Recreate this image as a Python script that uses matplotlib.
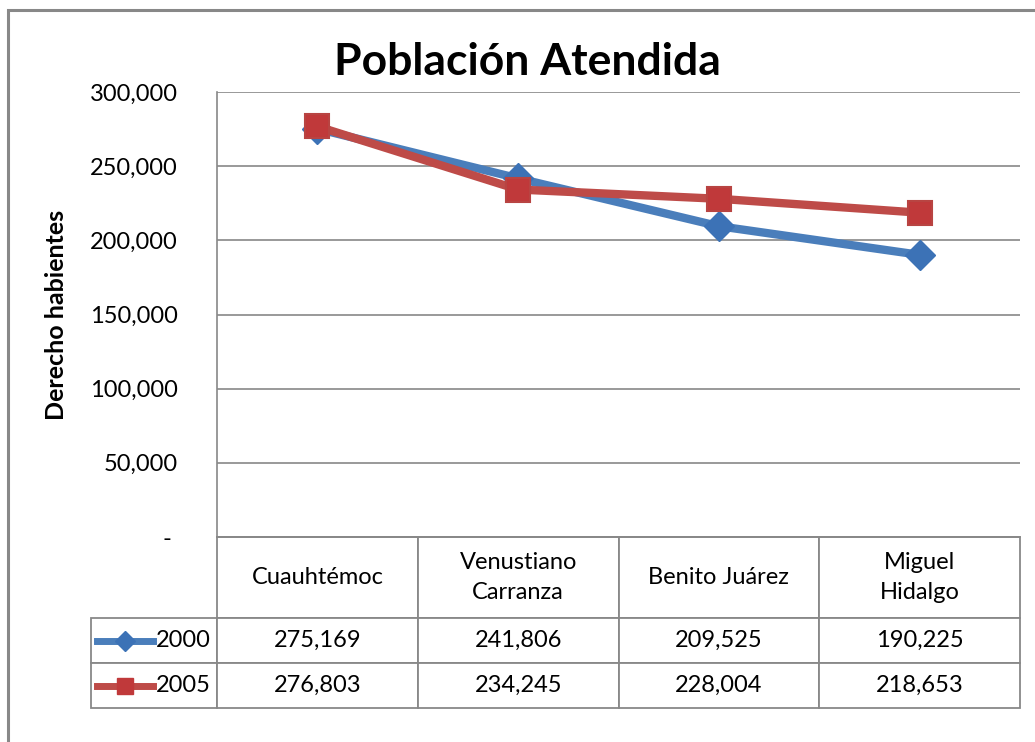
import matplotlib
matplotlib.use("Agg")
import matplotlib.pyplot as plt
from matplotlib.patches import Rectangle

# === DATA ===
categories = ["Cuauhtémoc", "Venustiano\nCarranza", "Benito Juárez", "Miguel\nHidalgo"]
series_2000 = [275169, 241806, 209525, 190225]
series_2005 = [276803, 234245, 228004, 218653]
series_names = ["2000", "2005"]
y_ticks = [0, 50000, 100000, 150000, 200000, 250000, 300000]
y_tick_labels = ["- ", "50,000", "100,000", "150,000", "200,000", "250,000", "300,000"]

# === STYLE ===
FONT = "Lato"
BLUE = "#4A7EBB"
RED = "#BE4B48"
GRID = "#888888"
W, H = 1035, 742

plt.rcParams["font.family"] = [FONT, "DejaVu Sans"]

fig = plt.figure(figsize=(W / 100, H / 100), dpi=100)

# plot area in pixels: left 217, right 1020, top 92, bottom 537
PW, PH = 803, 445
ax = fig.add_axes([217 / W, 1 - 537 / H, PW / W, PH / H])

x = list(range(len(categories)))
ax.plot(x, series_2000, color=BLUE, lw=6, marker="D", ms=15,
        mfc="#3C72B6", mec="#3C72B6", zorder=3, solid_capstyle="round")
ax.plot(x, series_2005, color=RED, lw=6, marker="s", ms=17,
        mfc="#C0393A", mec="#B84442", mew=1.5, zorder=4, solid_capstyle="round")

ax.set_xlim(-0.5, len(categories) - 0.5)
ax.set_ylim(0, 300000)
ax.set_yticks(y_ticks)
ax.set_yticklabels(y_tick_labels)
ax.set_xticks([])
ax.tick_params(axis="y", length=0, pad=28, labelsize=17)
ax.yaxis.grid(True, color=GRID, lw=1.2)
ax.set_axisbelow(True)
for side in ["top", "right"]:
    ax.spines[side].set_visible(False)
for side in ["left", "bottom"]:
    ax.spines[side].set_color(GRID)
    ax.spines[side].set_linewidth(1.2)

ax.set_ylabel("Derecho habientes", fontsize=18, fontweight="bold", labelpad=16)
fig.text(527 / W, 1 - 62 / H, "Población Atendida", ha="center", va="center",
         fontsize=32, fontweight="bold")

# === DATA TABLE ===
head_h, row_h = 81, 45
lab_w, col_w = 126, PW / len(categories)
tbl_h = head_h + 2 * row_h
cell_text = [[series_names[0]] + [f"{v:,}" for v in series_2000],
             [series_names[1]] + [f"{v:,}" for v in series_2005]]
tbl = ax.table(cellText=cell_text, colLabels=[""] + categories,
               cellLoc="center", colLoc="center",
               bbox=[-lab_w / PW, -tbl_h / PH, (PW + lab_w) / PW, tbl_h / PH])
tbl.auto_set_font_size(False)
tbl.set_fontsize(17)
for (r, c), cell in tbl.get_celld().items():
    cell.set_edgecolor(GRID)
    cell.set_linewidth(1.3)
    cell.set_height(head_h if r == 0 else row_h)
    cell.set_width(lab_w if c == 0 else col_w)
    cell.get_text().set_fontfamily([FONT, "DejaVu Sans"])
    if r == 0:
        cell.get_text().set_linespacing(1.5)
    if c == 0:
        cell.get_text().set_horizontalalignment("right")
        cell._loc = "right"
        cell.PAD = 0.05
tbl[0, 0].visible_edges = ""

# legend keys inside the row-label cells
x0, x1 = (97 - 217) / PW, (153 - 217) / PW
for i, (col, mk, ms, fc) in enumerate([(BLUE, "D", 10, "#3C72B6"), (RED, "s", 12, "#C0393A")]):
    yc = -(head_h + row_h * (i + 0.5)) / PH
    ax.plot([x0, (x0 + x1) / 2, x1], [yc] * 3, color=col, lw=5, marker=mk, ms=ms,
            mfc=fc, mec=fc, markevery=[1], transform=ax.transAxes, clip_on=False)

# outer chart border
fig.patches.append(Rectangle((7.5 / W, -0.1), 1.2, 1.1 - 10.5 / H,
                             transform=fig.transFigure, fill=False,
                             edgecolor=GRID, lw=2.2))

fig.savefig("out.png", dpi=100)
